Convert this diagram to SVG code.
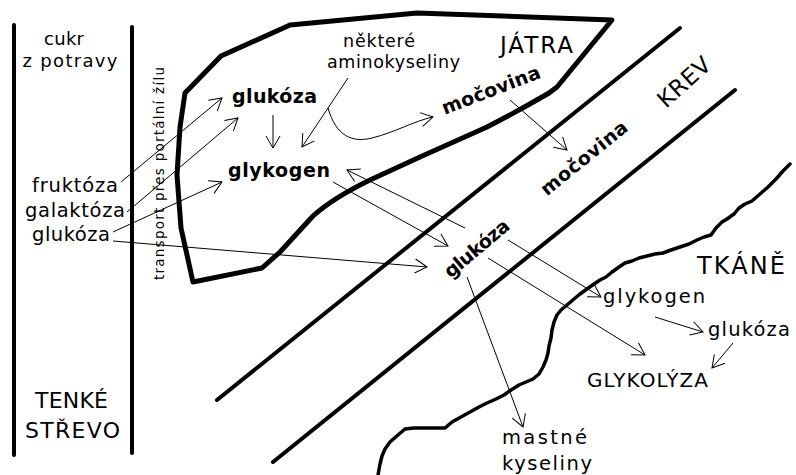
<svg xmlns="http://www.w3.org/2000/svg" width="796" height="475" viewBox="0 0 796 475">
<style>
.t{font-family:"DejaVu Sans","Liberation Sans",sans-serif;fill:#000}
.r{font-size:19.5px}
.s{font-size:17.5px}
.b{font-size:19px;font-weight:bold}
.big{font-size:23px}
.thick{fill:none;stroke:#000;stroke-linejoin:round;stroke-linecap:round}
.c{fill:none;stroke:#000;stroke-width:1;marker-end:url(#ah)}
</style>
<defs>
<marker id="ah" markerUnits="userSpaceOnUse" viewBox="-14 -9 16 18" refX="0" refY="0" markerWidth="16" markerHeight="18" orient="auto">
<path d="M-12,-7 L0,0 L-12,7" fill="none" stroke="#000" stroke-width="1"/>
</marker>
</defs>
<rect width="796" height="475" fill="#fff"/>

<g id="structures">
<line class="thick" x1="14" y1="25" x2="14" y2="455" stroke-width="4"/>
<line class="thick" x1="132" y1="27" x2="132" y2="453" stroke-width="4"/>
<path id="liver-outline" class="thick" stroke-width="5" d="M185,93 L221,56 L290,25 L417,13 L612,20 L557,87 L549,93 Q520,110 487,127 L420,157 L370,180 Q333,198 313,216 L280,252 L262,268 L193,282 L181,228 L177,175 L180,127 Z"/>
<line class="thick" x1="217" y1="400" x2="680" y2="28" stroke-width="4"/>
<line class="thick" x1="273" y1="462" x2="735" y2="90" stroke-width="4"/>
<path id="tissue-edge" class="thick" stroke-width="3.5" d="M790,164 L783,171 L776,179 L768,187 L760,194 L752,201 L745,204 L739,208 L734,214 L727,219 L722,222 L716,228 L711,235 L704,237 L697,240 L689,244 L680,247 L671,250 L663,253 L655,254 L647,256 L639,258 L632,261 L625,263 L619,267 L612,272 L606,277 L600,280 L594,284 L587,289 L580,294 L574,299 L567,305 L561,310 L557,315 L554,322 L552,330 L551,338 L549,346 L548,353 L546,360 L543,367 L539,374 L533,379 L526,382 L519,385 L511,390 L504,395 L496,399 L487,403 L479,407 L470,412 L461,417 L452,422 L445,428 L434,428 L424,428 L414,428 L405,429 L398,435 L390,442 L385,449 L382,456 L380,464 L378,475"/>
</g>

<g id="connectors">
<path class="c" d="M121,182 L222,98"/>
<path class="c" d="M127,212 L238,118"/>
<path class="c" d="M113,232 L222,182"/>
<path class="c" d="M113,241 L427,267"/>
<path class="c" d="M273,115 L273,148"/>
<path class="c" d="M348,78 L302,147"/>
<path class="c" d="M328,108 C336,136 352,143 372,138 C396,132 414,121 433,117"/>
<path class="c" d="M510,100 L567,150"/>
<path class="c" d="M465,228 L347,170"/>
<path class="c" d="M333,182 L448,246"/>
<path class="c" d="M508,240 L601,297"/>
<path class="c" d="M488,258 L645,355"/>
<path class="c" d="M467,277 L523,427"/>
<path class="c" d="M655,317 L703,332"/>
<path class="c" d="M733,343 L712,368"/>
</g>

<g id="intestine-labels">
<g id="cukr"><text class="t" font-size="18" text-anchor="middle" x="64" y="45" textLength="40">cukr</text>
<text class="t" font-size="18" text-anchor="middle" x="70" y="67" textLength="95">z potravy</text></g>
<g id="fruktoza"><text class="t r" x="32" y="192" textLength="86">fruktóza</text></g>
<g id="galaktoza"><text class="t r" x="25" y="217" textLength="100">galaktóza</text></g>
<g id="glukoza-strevo"><text class="t r" x="32" y="241" textLength="78">glukóza</text></g>
<g id="tenke-strevo"><text class="t" font-size="22" x="35" y="408" textLength="73">TENKÉ</text>
<text class="t" font-size="22" x="25" y="438" textLength="95">STŘEVO</text></g>
<g id="transport"><text class="t" font-size="13.5" transform="translate(164,280) rotate(-90)" textLength="213">transport přes portální žílu</text></g>
</g>

<g id="liver-labels">
<g id="glukoza-jatra"><text class="t b" x="232" y="103" textLength="85">glukóza</text></g>
<g id="glykogen-jatra"><text class="t b" x="228" y="177" textLength="102">glykogen</text></g>
<g id="aminokyseliny"><text class="t s" x="343" y="47" textLength="72">některé</text>
<text class="t s" x="327" y="68" textLength="133">aminokyseliny</text></g>
<g id="jatra"><text class="t big" x="500" y="53" textLength="73">JÁTRA</text></g>
<g id="mocovina-jatra"><text class="t b" text-anchor="middle" transform="translate(491,90) rotate(-21)" x="0" y="6.5" textLength="104">močovina</text></g>
</g>

<g id="blood-labels">
<g id="mocovina-krev"><text class="t b" text-anchor="middle" transform="translate(584,158) rotate(-39)" x="0" y="6.5" textLength="106">močovina</text></g>
<g id="krev"><text class="t big" text-anchor="middle" transform="translate(684,82) rotate(-42)" x="0" y="8" textLength="63">KREV</text></g>
<g id="glukoza-krev"><text class="t b" text-anchor="middle" transform="translate(478,250) rotate(-40)" x="0" y="4.5" textLength="79">glukóza</text></g>
</g>

<g id="tissue-labels">
<g id="tkane"><text class="t" font-size="24" x="697" y="274" textLength="88">TKÁNĚ</text></g>
<g id="glykogen-tkan"><text class="t r" x="603" y="303" textLength="102">glykogen</text></g>
<g id="glukoza-tkan"><text class="t r" x="708" y="336" textLength="82">glukóza</text></g>
<g id="glykolyza"><text class="t" font-size="20" x="587" y="387" textLength="121">GLYKOLÝZA</text></g>
<g id="mastne-kyseliny"><text class="t r" x="502" y="444" textLength="85">mastné</text>
<text class="t r" x="502" y="470" textLength="90">kyseliny</text></g>
</g>
</svg>
